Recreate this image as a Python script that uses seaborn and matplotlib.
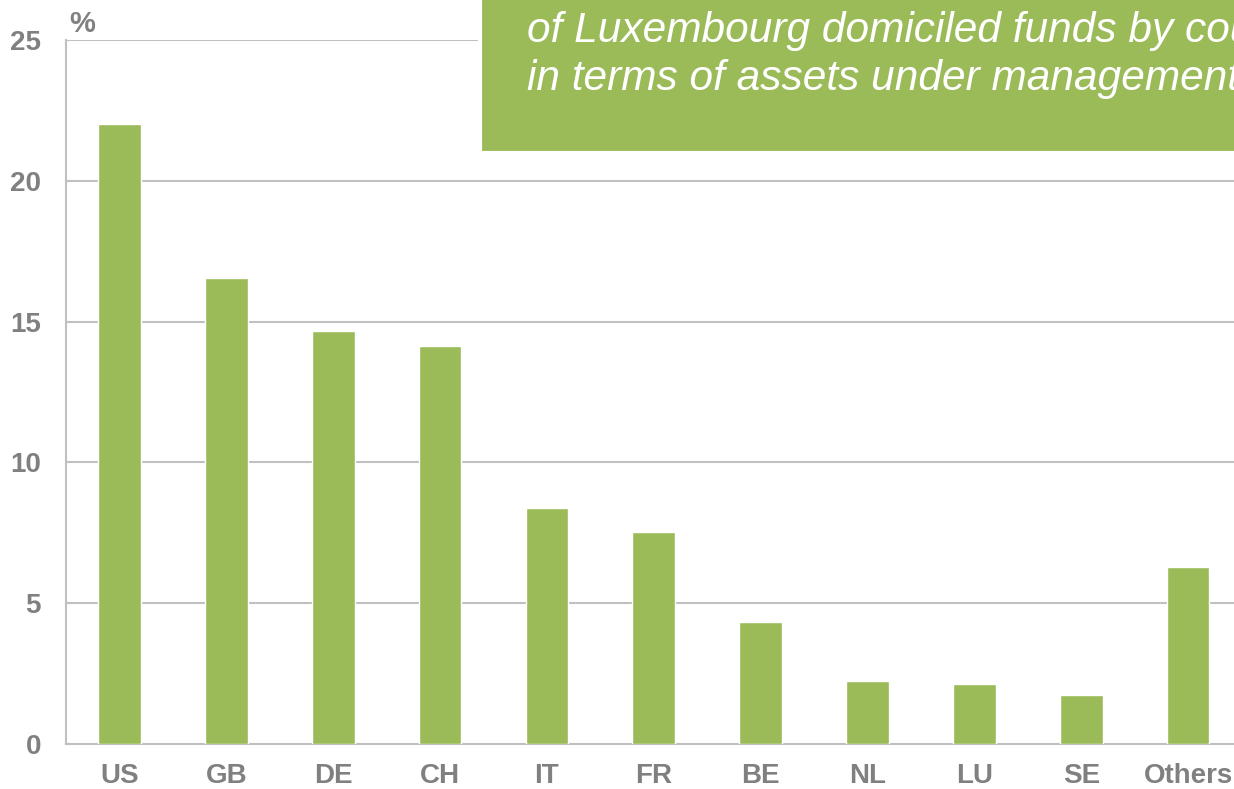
import numpy as np
import pandas as pd
import matplotlib
matplotlib.use("Agg")
import matplotlib.pyplot as plt
import seaborn as sns
from matplotlib.patches import Rectangle

countries = ["US", "GB", "DE", "CH", "IT", "FR", "BE", "NL", "LU", "SE", "Others"]
shares = [22.0, 16.55, 14.65, 14.12, 8.38, 7.53, 4.33, 2.24, 2.14, 1.74, 6.27]
y_ticks = [0, 5, 10, 15, 20, 25]
title_lines = ["of Luxembourg domiciled funds by country",
               "in terms of assets under management"]

green = "#9BBB59"
grey_txt = "#808080"
grey_line = "#C0C0C0"

sns.set_style("white")
plt.rcParams['font.family'] = ['Liberation Sans', 'DejaVu Sans']

df = pd.DataFrame({"country": countries, "share": shares})

fig = plt.figure(figsize=(12.34, 7.89), dpi=100)
ax = fig.add_axes([66 / 1234, 1 - 744 / 789, 1175.5 / 1234, 704 / 789])

sns.barplot(data=df, x="country", y="share", color=green, width=0.4,
            saturation=1, ax=ax, zorder=3)

ax.set_xlim(-0.5, 10.5)
ax.set_ylim(0, 25)
ax.set_yticks(y_ticks)
ax.set_xlabel("")
ax.set_ylabel("")

for y in y_ticks[1:]:
    ax.axhline(y, color=grey_line, lw=1.5, zorder=1)

for s in ["top", "right"]:
    ax.spines[s].set_visible(False)
for s in ["left", "bottom"]:
    ax.spines[s].set_color(grey_line)
    ax.spines[s].set_linewidth(1.5)

ax.tick_params(axis="y", direction="out", length=7, width=1.5, color=grey_line,
               labelsize=20, labelcolor=grey_txt, pad=11)
ax.tick_params(axis="x", which="major", length=0, labelsize=20,
               labelcolor=grey_txt, pad=14)
ax.set_xticks(np.arange(-0.5, 11, 1), minor=True)
ax.tick_params(axis="x", which="minor", direction="out", length=5, width=1.5,
               color=grey_line)
for lbl in ax.get_xticklabels() + ax.get_yticklabels():
    lbl.set_fontweight("bold")

fig.text(82 / 1234, 1 - 24 / 789, "%", fontsize=21, fontweight="bold",
         color=grey_txt, ha="center", va="center")

# green title box, cut off by the figure edge like in the source
fig.patches.append(Rectangle((480 / 1234, 1 - 153 / 789), 0.7, 0.3,
                             transform=fig.transFigure, facecolor=green,
                             edgecolor="white", lw=3, zorder=5))
fig.text(527 / 1234, 1 - 42 / 789, title_lines[0], fontsize=30.5, style="italic",
         color="white", va="baseline", ha="left", zorder=6)
fig.text(527 / 1234, 1 - 90 / 789, title_lines[1], fontsize=30.5, style="italic",
         color="white", va="baseline", ha="left", zorder=6)

fig.savefig("out.png", dpi=100)
